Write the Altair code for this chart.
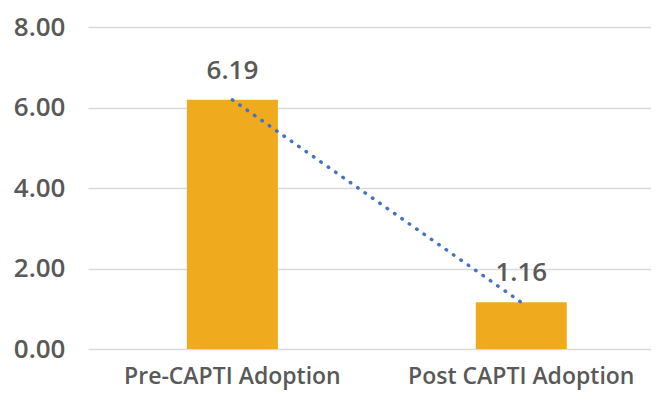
import altair as alt
import pandas as pd

categories = ["Pre-CAPTI Adoption", "Post CAPTI Adoption"]
values = [6.19, 1.16]
y_ticks = [0, 2, 4, 6, 8]

df = pd.DataFrame({"cat": categories, "val": values})

FONT = "Open Sans"
GREY = "#595959"

x = alt.X(
    "cat:N",
    sort=categories,
    title=None,
    scale=alt.Scale(paddingInner=0.685, paddingOuter=0.317, align=0.54),
    axis=alt.Axis(
        labelAngle=0,
        labelFont=FONT,
        labelFontSize=23,
        labelFontWeight=600,
        labelColor=GREY,
        labelPadding=16,
        labelLimit=0,
        labelOverlap=False,
        ticks=False,
        domain=False,
        grid=False,
    ),
)
y = alt.Y(
    "val:Q",
    title=None,
    scale=alt.Scale(domain=[0, 8], nice=False),
    axis=alt.Axis(
        values=y_ticks,
        format=".2f",
        labelFont=FONT,
        labelFontSize=26,
        labelFontWeight=600,
        labelColor=GREY,
        labelPadding=23,
        ticks=False,
        domain=False,
        grid=True,
        gridColor="#D9D9D9",
        gridWidth=1.3,
    ),
)

base = alt.Chart(df)

bars = base.mark_bar(color="#F0AA1E").encode(x=x, y=y)

labels = base.mark_text(
    dy=-16,
    baseline="bottom",
    font=FONT,
    fontSize=26,
    fontWeight=600,
    color=GREY,
).encode(x=x, y=y, text=alt.Text("val:Q", format=".2f"))

trend = base.mark_line(
    color="#4472C4",
    strokeWidth=3.5,
    strokeDash=[0.5, 8.5],
    strokeCap="round",
).encode(x=x, y=y)

chart = (
    alt.layer(bars, trend, labels)
    .properties(
        width=563,
        height=322,
        background="white",
        autosize=alt.AutoSizeParams(type="none"),
        padding={"left": 80, "top": 19, "right": 0, "bottom": 41},
    )
    .configure_view(stroke=None, strokeWidth=0)
)

chart.save("out.html", embed_options={"renderer": "svg", "actions": False})
